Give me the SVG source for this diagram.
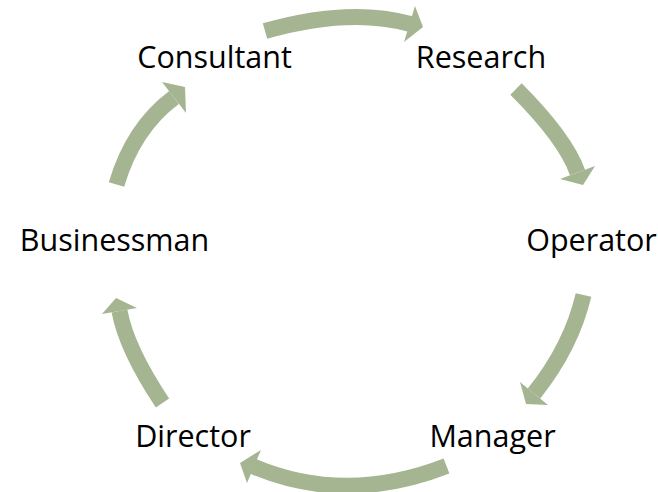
<svg xmlns="http://www.w3.org/2000/svg" width="658" height="492" viewBox="0 0 658 492">
<style>
.shaft{fill:none;stroke:#A5B592;stroke-width:16;stroke-linecap:butt}
.head{fill:#A5B592;stroke:none}
.lbl{font-family:"Open Sans","Liberation Sans",sans-serif;font-size:30.5px;fill:#000;text-anchor:middle}
</style>
<rect width="658" height="492" fill="#fff"/>
<g id="connectors">
<path class="shaft" d="M265,31 Q349.3,6.9 410.5,24"/>
<polygon class="head" points="415,6 423,27 404,42"/>
<path class="shaft" d="M516,89 Q565.6,138.6 577.5,172.5"/>
<polygon class="head" points="560,179 595,166 583,185"/>
<path class="shaft" d="M583.5,295 Q571.3,346.9 534,393.5"/>
<polygon class="head" points="520,382 548,405 526,404"/>
<path class="shaft" d="M446.5,466 Q345.6,505.3 253.5,466.5"/>
<polygon class="head" points="261,450 240,463 247,483"/>
<path class="shaft" d="M162.5,403 Q126.4,348.9 119.5,311"/>
<polygon class="head" points="102,314 116,298 137,308"/>
<path class="shaft" d="M116.5,184.5 Q132.9,128.3 174,97.5"/>
<polygon class="head" points="162,82 185,87 186,113"/>
</g>
<g id="consultant"><text class="lbl" x="214.5" y="67.5">Consultant</text></g>
<g id="research"><text class="lbl" x="481" y="67.5">Research</text></g>
<g id="operator"><text class="lbl" x="591.5" y="251">Operator</text></g>
<g id="manager"><text class="lbl" x="492.5" y="447">Manager</text></g>
<g id="director"><text class="lbl" x="193" y="447">Director</text></g>
<g id="businessman"><text class="lbl" x="114.5" y="251">Businessman</text></g>
</svg>
